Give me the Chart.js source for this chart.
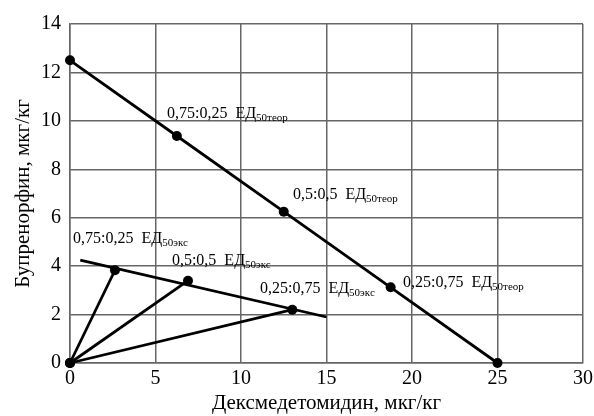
<!DOCTYPE html>
<html>
<head>
<meta charset="utf-8">
<script src="https://cdn.jsdelivr.net/npm/chart.js@4"></script>
<style>
  html, body { margin: 0; padding: 0; background: #fff; }
  #wrap { width: 594px; height: 416px; }
</style>
</head>
<body>
<div id="wrap"><canvas id="chart"></canvas></div>
<script>
// theoretical isobole (ЕД50теор)
const theorX = [0, 6.25, 12.5, 18.75, 25];
const theorY = [12.5, 9.375, 6.25, 3.125, 0];

// experimental fitted line (ЕД50экс)
const fitX = [0.6, 15];
const fitY = [4.25, 1.9];

// experimental points, each joined to the origin
const expX = [2.63, 6.9, 13.0];
const expY = [3.83, 3.4, 2.2];

// ratio labels: text, subscript, anchor (data units, left/middle)
const labelMain = ['0,75:0,25  ЕД', '0,5:0,5  ЕД', '0,25:0,75  ЕД', '0,75:0,25  ЕД', '0,5:0,5  ЕД', '0,25:0,75  ЕД'];
const labelSub = ['50теор', '50теор', '50теор', '50экс', '50экс', '50экс'];
const labelX = [5.67, 13.04, 19.47, 0.18, 5.96, 11.11];
const labelY = [10.28, 6.94, 3.30, 5.12, 4.21, 3.06];

const xTicks = [0, 5, 10, 15, 20, 25, 30];
const yTicks = [0, 2, 4, 6, 8, 10, 12, 14];

const pts = (xs, ys) => xs.map((x, i) => ({ x: x, y: ys[i] }));

const lineStyle = {
  showLine: true,
  clip: false,
  borderColor: '#000',
  backgroundColor: '#000',
  borderWidth: 2.8,
  pointRadius: 5,
  pointBackgroundColor: '#000',
  pointBorderWidth: 0
};

const datasets = [
  Object.assign({ data: pts(theorX, theorY) }, lineStyle),
  Object.assign({}, lineStyle, { data: pts(fitX, fitY), pointRadius: 0 })
];
expX.forEach((x, i) => {
  datasets.push(Object.assign({ data: [{ x: 0, y: 0 }, { x: x, y: expY[i] }] }, lineStyle));
});

const ratioLabels = {
  id: 'ratioLabels',
  afterDatasetsDraw(chart) {
    const ctx = chart.ctx;
    const xs = chart.scales.x, ys = chart.scales.y;
    ctx.save();
    ctx.fillStyle = '#000';
    ctx.textBaseline = 'middle';
    ctx.textAlign = 'left';
    labelMain.forEach((t, i) => {
      const px = xs.getPixelForValue(labelX[i]);
      const py = ys.getPixelForValue(labelY[i]);
      ctx.font = '16px "Liberation Serif"';
      ctx.fillText(t, px, py);
      const w = ctx.measureText(t).width;
      ctx.font = '11px "Liberation Serif"';
      ctx.fillText(labelSub[i], px + w, py + 4);
    });
    ctx.restore();
  }
};

const tickFont = { family: '"Liberation Serif"', size: 20 };
const titleFont = { family: '"Liberation Serif"', size: 21 };

new Chart(document.getElementById('chart'), {
  type: 'scatter',
  data: { datasets: datasets },
  options: {
    responsive: true,
    maintainAspectRatio: false,
    animation: false,
    layout: { padding: { top: 24, right: 11, left: 11, bottom: 0 } },
    plugins: { legend: { display: false }, tooltip: { enabled: false } },
    scales: {
      x: {
        type: 'linear', min: 0, max: 30,
        afterBuildTicks: s => { s.ticks = xTicks.map(v => ({ value: v })); },
        afterFit: s => { s.height = 53; s.paddingRight = 0; s.paddingLeft = 0; },
        grid: { color: '#666', lineWidth: 1.5, drawTicks: false },
        border: { color: '#666', width: 1.5 },
        ticks: { color: '#000', font: tickFont, padding: 4, maxRotation: 0 },
        title: { display: true, text: 'Дексмедетомидин, мкг/кг', color: '#000', font: titleFont, padding: { top: 0, bottom: 0 } }
      },
      y: {
        type: 'linear', min: 0, max: 14,
        afterBuildTicks: s => { s.ticks = yTicks.map(v => ({ value: v })); },
        afterFit: s => { s.width = 59; },
        grid: { color: '#666', lineWidth: 1.5, drawTicks: false },
        border: { color: '#666', width: 1.5 },
        ticks: { color: '#000', font: tickFont, padding: 9 },
        title: { display: true, text: 'Бупренорфин, мкг/кг', color: '#000', font: titleFont, padding: { top: 0, bottom: 4 } }
      }
    }
  },
  plugins: [ratioLabels]
});
</script>
</body>
</html>
